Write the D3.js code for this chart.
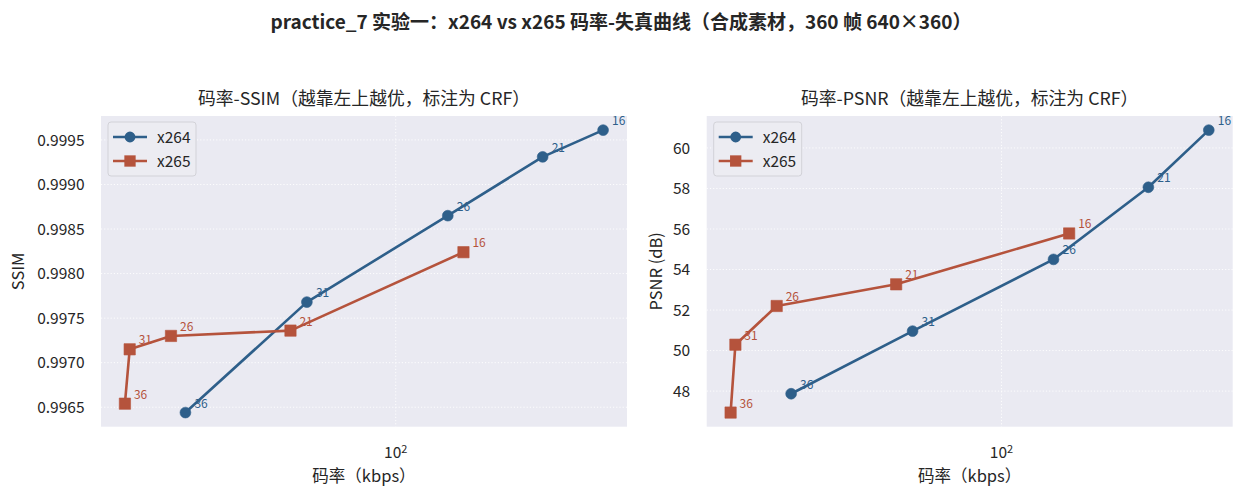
<!DOCTYPE html>
<html>
<head>
<meta charset="utf-8">
<script src="https://cdn.jsdelivr.net/npm/d3@7/dist/d3.min.js"></script>
<style>
  body { margin: 0; background: #fff; }
  svg text { font-family: "Noto Sans CJK SC", "Noto Sans", sans-serif; fill: #262626; }
</style>
</head>
<body>
<svg id="chart" width="1244" height="498"></svg>
<script>
// CRF points (kbps on a log axis)
var crf = [36, 31, 26, 21, 16];
var x264Rate = [31.4, 61.3, 133.2, 224.6, 313.3];
var x265Rate = [22.5, 23.1, 29.0, 56.0, 145.2];
var x264Ssim = [0.99644, 0.99768, 0.99865, 0.99931, 0.99961];
var x265Ssim = [0.99654, 0.99715, 0.99730, 0.99736, 0.99824];
var x264Psnr = [47.87, 50.96, 54.50, 58.06, 60.88];
var x265Psnr = [46.94, 50.29, 52.20, 53.27, 55.78];
var xTicks = [100];
var ssimTicks = [0.9965, 0.9970, 0.9975, 0.9980, 0.9985, 0.9990, 0.9995];
var psnrTicks = [48, 50, 52, 54, 56, 58, 60];

var blue = "#2e5f8a", red = "#b5533c";

var svg = d3.select("#chart");

svg.append("text")
    .attr("x", 621).attr("y", 28.5)
    .attr("text-anchor", "middle")
    .style("font-size", "19px").style("font-weight", "bold")
    .text("practice_7 实验一：x264 vs x265 码率-失真曲线（合成素材，360 帧 640×360）");

// matplotlib style 5% padding
function padLin(vals) {
  var e = d3.extent(vals), p = (e[1] - e[0]) * 0.05;
  return [e[0] - p, e[1] + p];
}
function padLog(vals) {
  var e = d3.extent(vals).map(Math.log10), p = (e[1] - e[0]) * 0.05;
  return [Math.pow(10, e[0] - p), Math.pow(10, e[1] + p)];
}

function drawPanel(opt) {
  var left = opt.left, top = 116, width = 526, height = 310.7;
  var g = svg.append("g").attr("transform", "translate(" + left + "," + top + ")");

  var x = d3.scaleLog()
      .domain(padLog(x264Rate.concat(x265Rate)))
      .range([0, width]);
  var y = d3.scaleLinear()
      .domain(padLin(opt.s264.concat(opt.s265)))
      .range([height, 0]);

  g.append("rect").attr("width", width).attr("height", height).attr("fill", "#eaeaf2");

  // grid
  g.selectAll(".hgrid").data(opt.yTicks).enter().append("line")
      .attr("x1", 0).attr("x2", width)
      .attr("y1", function(d) { return y(d); }).attr("y2", function(d) { return y(d); })
      .attr("stroke", "#fff").attr("stroke-width", 0.9).attr("stroke-dasharray", "1.2,2");
  g.selectAll(".vgrid").data(xTicks).enter().append("line")
      .attr("y1", 0).attr("y2", height)
      .attr("x1", function(d) { return x(d); }).attr("x2", function(d) { return x(d); })
      .attr("stroke", "#fff").attr("stroke-width", 0.9).attr("stroke-dasharray", "1.2,2");

  // y tick labels
  g.selectAll(".ytl").data(opt.yTicks).enter().append("text")
      .attr("x", -16.5).attr("y", function(d) { return y(d); })
      .attr("dy", "0.36em")
      .attr("text-anchor", "end")
      .style("font-size", "15.5px")
      .text(opt.fmt);

  // x tick label 10^2
  xTicks.forEach(function(t) {
    var tx = g.append("text")
        .attr("x", x(t)).attr("y", height + 31.5)
        .attr("text-anchor", "middle")
        .style("font-size", "15.5px");
    tx.append("tspan").text("10");
    tx.append("tspan").attr("dy", "-0.45em").style("font-size", "11px")
        .text(String(Math.round(Math.log10(t))));
  });

  g.append("text")
      .attr("x", width / 2).attr("y", height + 55.5)
      .attr("text-anchor", "middle")
      .style("font-size", "16.5px")
      .text("码率（kbps）");

  g.append("text")
      .attr("transform", "translate(" + opt.ylabelX + "," + (height / 2) + ") rotate(-90)")
      .attr("text-anchor", "middle")
      .style("font-size", "16.5px")
      .text(opt.ylabel);

  g.append("text")
      .attr("x", width / 2).attr("y", -11)
      .attr("text-anchor", "middle")
      .style("font-size", "17.8px")
      .text(opt.title);

  var line = d3.line()
      .x(function(d) { return x(d.rate); })
      .y(function(d) { return y(d.v); });

  var series = [
    { name: "x264", color: blue, shape: "circle",
      pts: x264Rate.map(function(r, i) { return { rate: r, v: opt.s264[i], crf: crf[i] }; }) },
    { name: "x265", color: red, shape: "square",
      pts: x265Rate.map(function(r, i) { return { rate: r, v: opt.s265[i], crf: crf[i] }; }) }
  ];

  function symbolFor(s) {
    return d3.symbol().type(s.shape == "circle" ? d3.symbolCircle : d3.symbolSquare)
        .size(s.shape == "circle" ? 92 : 128);
  }

  series.forEach(function(s) {
    g.append("path")
        .datum(s.pts)
        .attr("fill", "none")
        .attr("stroke", s.color)
        .attr("stroke-width", 2.6)
        .attr("stroke-linejoin", "round")
        .attr("d", line);

    g.selectAll(".m" + s.name).data(s.pts).enter().append("path")
        .attr("transform", function(d) { return "translate(" + x(d.rate) + "," + y(d.v) + ")"; })
        .attr("d", symbolFor(s))
        .attr("fill", s.color)
        .attr("stroke", s.color).attr("stroke-opacity", 0.6).attr("stroke-width", 1);

    g.selectAll(".a" + s.name).data(s.pts).enter().append("text")
        .attr("x", function(d) { return x(d.rate) + 9; })
        .attr("y", function(d) { return y(d.v) - 5; })
        .style("font-size", "12px")
        .style("fill", s.color)
        .text(function(d) { return d.crf; });
  });

  // legend
  var lg = g.append("g").attr("transform", "translate(7,6)");
  lg.append("rect")
      .attr("width", 88).attr("height", 54).attr("rx", 3)
      .attr("fill", "#ececf2").attr("stroke", "#d2d2d8").attr("stroke-width", 1);
  series.forEach(function(s, i) {
    var ly = 15 + i * 24;
    lg.append("line").attr("x1", 5).attr("x2", 39).attr("y1", ly).attr("y2", ly)
        .attr("stroke", s.color).attr("stroke-width", 2.6);
    lg.append("path")
        .attr("transform", "translate(22," + ly + ")")
        .attr("d", symbolFor(s))
        .attr("fill", s.color);
    lg.append("text").attr("x", 49).attr("y", ly).attr("dy", "0.36em")
        .style("font-size", "15.5px")
        .text(s.name);
  });
}

drawPanel({
  left: 101, s264: x264Ssim, s265: x265Ssim, yTicks: ssimTicks,
  fmt: d3.format(".4f"), ylabel: "SSIM", ylabelX: -77,
  title: "码率-SSIM（越靠左上越优，标注为 CRF）"
});
drawPanel({
  left: 706.7, s264: x264Psnr, s265: x265Psnr, yTicks: psnrTicks,
  fmt: d3.format("d"), ylabel: "PSNR (dB)", ylabelX: -44.5,
  title: "码率-PSNR（越靠左上越优，标注为 CRF）"
});
</script>
</body>
</html>
